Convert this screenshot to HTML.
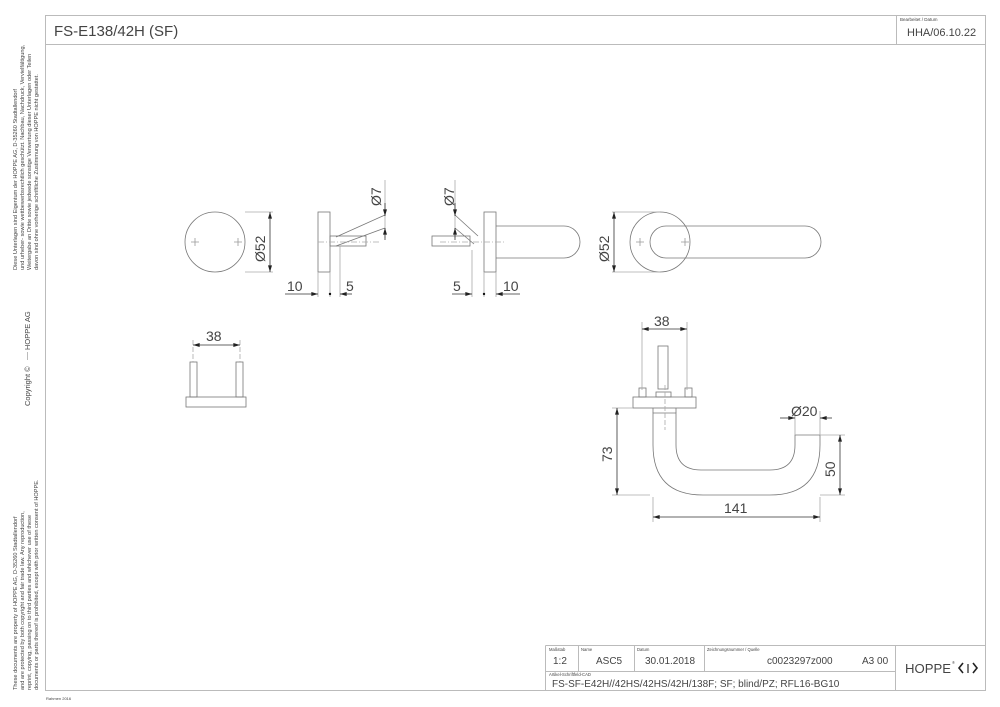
<!DOCTYPE html>
<html><head><meta charset="utf-8"><style>
html,body{margin:0;padding:0;background:#fff}
svg{display:block}
text{font-family:"Liberation Sans",sans-serif;fill:#444}
</style></head><body>
<svg width="1000" height="707" viewBox="0 0 1000 707" xmlns="http://www.w3.org/2000/svg">
<defs>
<marker id="a" viewBox="0 0 10 6" refX="10" refY="3" markerWidth="10" markerHeight="4" orient="auto-start-reverse" markerUnits="userSpaceOnUse"><path d="M0,0L10,3L0,6z" fill="#222"/></marker>
</defs>
<g fill="none" stroke="#bbb" stroke-width="1">
<path d="M45.5,15.5H985.5V690.5H45.5Z"/>
<path d="M45.5,44.5H985.5M896.5,15.5V44.5"/>
<path d="M545.5,645.5H985.5M545.5,645.5V690.5M578.5,645.5V671.5M634.5,645.5V671.5M704.5,645.5V671.5M545.5,671.5H895.5M895.5,645.5V690.5"/>
<path d="M27.5,352V360"/>
</g>
<g font-size="5.6" fill="#666">
<text transform="translate(17,270) rotate(-90)">Diese Unterlagen sind Eigentum der  HOPPE AG, D-35260 Stadtallendorf</text>
<text transform="translate(24,270) rotate(-90)">und urheber- sowie wettbewerbsrechtlich geschützt. Nachbau, Nachdruck, Vervielfältigung,</text>
<text transform="translate(31,270) rotate(-90)">Weitergabe an Dritte sowie jedwede sonstige Verwertung dieser Unterlagen oder Teilen</text>
<text transform="translate(38,270) rotate(-90)">davon sind ohne vorherige schriftliche Zustimmung von HOPPE nicht gestattet.</text>
<text transform="translate(17,690) rotate(-90)">These documents are property of HOPPE AG, D-35260 Stadtallendorf</text>
<text transform="translate(24,690) rotate(-90)">and are protected by both copyright and fair trade law. Any reproduction,</text>
<text transform="translate(31,690) rotate(-90)">reprint, copying, passing on to third parties and whichever use of these</text>
<text transform="translate(38,690) rotate(-90)">documents or parts thereof is prohibited, except with prior written consent of HOPPE.</text>
</g>
<text font-size="7.5" transform="translate(30,350) rotate(-90)" fill="#666">HOPPE  AG</text>
<text font-size="7.5" transform="translate(30,406) rotate(-90)" fill="#666">Copyright ©</text>
<text x="46" y="700" font-size="4" fill="#888">Rahmen 2016</text>
<text x="54" y="36" font-size="15">FS-E138/42H (SF)</text>
<text x="900" y="21" font-size="4.5" fill="#777">Bearbeitet  / Datum</text>
<text x="907" y="36" font-size="11">HHA/06.10.22</text>
<g font-size="4.2" fill="#777">
<text x="549" y="651">Maßstab</text><text x="581" y="651">Name</text><text x="637" y="651">Datum</text><text x="707" y="651">Zeichnungsnummer / Quelle</text><text x="549" y="676">Artikel-Schriftfeld-CAD</text>
</g>
<g font-size="10">
<text x="553" y="664">1:2</text><text x="596" y="664">ASC5</text><text x="645" y="664">30.01.2018</text><text x="767" y="664">c0023297z000</text><text x="862" y="664">A3 00</text>
<text x="552" y="687">FS-SF-E42H//42HS/42HS/42H/138F; SF; blind/PZ; RFL16-BG10</text>
</g>
<text x="905" y="673" font-size="13" fill="#222" textLength="46" lengthAdjust="spacingAndGlyphs">HOPPE</text>
<text x="952" y="664" font-size="4" fill="#222">®</text>
<g fill="none" stroke="#222" stroke-width="1.6"><path d="M963,663l-4,5l4,5M973,663l4,5l-4,5"/><path d="M968,664v9" stroke-width="1.2"/></g>

<g fill="none" stroke="#777" stroke-width="0.8">
<circle cx="215" cy="242" r="30"/>
<path d="M191,242h8M195,238v8M234,242h8M238,238v8" stroke="#999"/>
<path d="M245,212H273M245,272H273" stroke="#aaa"/>
<rect x="318" y="212" width="12" height="60"/>
<rect x="330" y="236" width="36" height="10"/>
<path d="M336,237L385,215M336,246L385,228"/>
<path d="M318,272V297M330,272V297M340,246V297" stroke="#aaa"/>
<path d="M318,242H380" stroke="#aaa" stroke-dasharray="6,2,1,2"/>
<path d="M385,180V238" stroke="#aaa"/>
<rect x="432" y="236" width="38" height="10"/>
<path d="M455,215L478,236M455,228L474,244"/>
<rect x="484" y="212" width="12" height="60"/>
<path d="M496,226H564A16,16 0 0 1 564,258H496"/>
<path d="M472,250V297M484,272V297M496,272V297" stroke="#aaa"/>
<path d="M455,180V238" stroke="#aaa"/>
<path d="M440,242H505" stroke="#aaa" stroke-dasharray="6,2,1,2"/>
<circle cx="660" cy="242" r="30"/>
<path d="M666,226H805A16,16 0 0 1 805,258H666A16,16 0 0 1 666,226Z"/>
<path d="M636,242h8M640,238v8M681,242h8M685,238v8" stroke="#999"/>
<path d="M612,212H660M612,272H660" stroke="#aaa"/>
<rect x="186" y="397" width="60" height="10"/>
<rect x="190" y="362" width="7" height="35"/><rect x="236" y="362" width="7" height="35"/>
<path d="M193,340V362M240,340V362" stroke="#aaa" stroke-dasharray="5,2"/>
<rect x="658" y="346" width="10" height="43"/>
<rect x="633" y="397" width="63" height="11"/>
<rect x="639" y="388" width="7" height="9"/><rect x="685" y="388" width="7" height="9"/>
<rect x="656" y="392" width="15" height="5"/>
<path d="M653,408V413M676,408V413"/>
<path d="M653,413V445Q653,495 703,495H770Q820,495 820,445V435H795V445Q795,470 770,470H701Q676,470 676,445V413Z"/>
<path d="M642,322V390M687,322V390M795,411V435M820,411V435" stroke="#aaa"/>
<path d="M612,408H633M612,495H650M820,435H845M820,495H845M653,497V522M820,497V522" stroke="#aaa"/>
<path d="M665,385V430" stroke="#aaa" stroke-dasharray="5,2"/>
</g>
<g fill="none" stroke="#333" stroke-width="0.8">
<path d="M270,212V272" marker-start="url(#a)" marker-end="url(#a)"/>
<path d="M614,212V272" marker-start="url(#a)" marker-end="url(#a)"/>
<path d="M385,203V216" marker-end="url(#a)"/><path d="M385,240V228" marker-end="url(#a)"/>
<path d="M455,203V216" marker-end="url(#a)"/><path d="M455,240V228" marker-end="url(#a)"/>
<path d="M285,294H318" marker-end="url(#a)"/><path d="M352,294H340" marker-end="url(#a)"/>
<path d="M452,294H472" marker-end="url(#a)"/><path d="M520,294H496" marker-end="url(#a)"/>
<path d="M193,345H240" marker-start="url(#a)" marker-end="url(#a)"/>
<path d="M642,329H687" marker-start="url(#a)" marker-end="url(#a)"/>
<path d="M780,418H795" marker-end="url(#a)"/><path d="M832,418H820" marker-end="url(#a)"/>
<path d="M617,408V495" marker-start="url(#a)" marker-end="url(#a)"/>
<path d="M840,435V495" marker-start="url(#a)" marker-end="url(#a)"/>
<path d="M653,517H820" marker-start="url(#a)" marker-end="url(#a)"/>
</g>
<g fill="#111"><circle cx="330" cy="294" r="1.2"/><circle cx="484" cy="294" r="1.2"/></g>
<g font-size="14" fill="#333">
<text transform="translate(265,262) rotate(-90)">Ø52</text>
<text transform="translate(609,262) rotate(-90)">Ø52</text>
<text transform="translate(381,206) rotate(-90)">Ø7</text>
<text transform="translate(454,206) rotate(-90)">Ø7</text>
<text x="287" y="291">10</text><text x="346" y="291">5</text>
<text x="453" y="291">5</text><text x="503" y="291">10</text>
<text x="206" y="341">38</text>
<text x="654" y="326">38</text>
<text x="791" y="416">Ø20</text>
<text transform="translate(612,462) rotate(-90)">73</text>
<text transform="translate(835,477) rotate(-90)">50</text>
<text x="724" y="513">141</text>
</g>
</svg>
</body></html>
